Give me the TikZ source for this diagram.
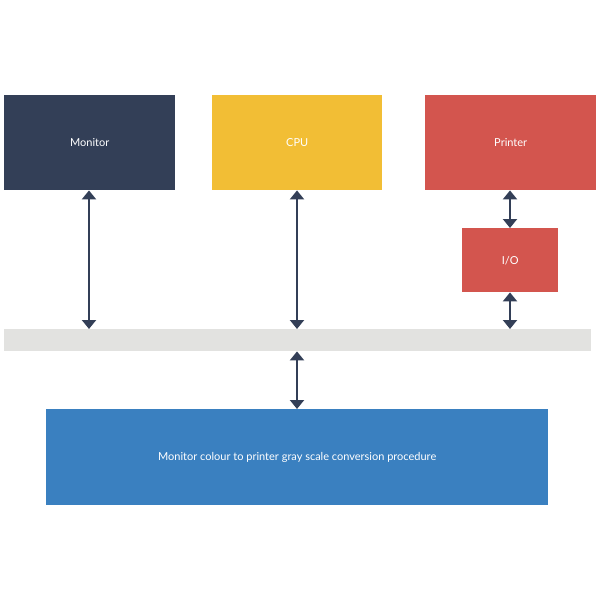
\documentclass[tikz,border=0pt]{standalone}
\usepackage{fontspec}
\setmainfont{Lato}
\usetikzlibrary{arrows.meta}
\definecolor{navy}{HTML}{333F57}
\definecolor{yel}{HTML}{F2BE35}
\definecolor{redb}{HTML}{D3554E}
\definecolor{blueb}{HTML}{3A80C0}
\definecolor{bus}{HTML}{E2E2E0}
\begin{document}
\begin{tikzpicture}[x=1pt,y=-1pt,
  box/.style={draw=none,text=white,font=\fontsize{11}{13}\selectfont,inner sep=0pt,anchor=north west},
  conn/.style={navy,line width=2pt,{Triangle[width=14pt,length=9pt]}-{Triangle[width=14pt,length=9pt]}}]
\useasboundingbox (0,0) rectangle (600,600);
\node[box,fill=navy,minimum width=171pt,minimum height=95pt] (mon) at (4,95) {Monitor};
\node[box,fill=yel,minimum width=170pt,minimum height=95pt] (cpu) at (212,95) {CPU};
\node[box,fill=redb,minimum width=171pt,minimum height=95pt] (prn) at (425,95) {Printer};
\node[box,fill=redb,minimum width=96pt,minimum height=64pt] (io) at (462,228) {I/O};
\node[box,fill=bus,minimum width=587pt,minimum height=22pt] (bus) at (4,329) {};
\node[box,fill=blueb,minimum width=502pt,minimum height=96pt] (proc) at (46,409) {Monitor colour to printer gray scale conversion procedure};
\draw[conn] (mon.south -| 89,0) -- (bus.north -| 89,0);
\draw[conn] (cpu.south -| 297,0) -- (bus.north -| 297,0);
\draw[conn] (prn.south -| 510,0) -- (io.north -| 510,0);
\draw[conn] (io.south -| 510,0) -- (bus.north -| 510,0);
\draw[conn] (bus.south -| 297,0) -- (proc.north -| 297,0);
\end{tikzpicture}
\end{document}
